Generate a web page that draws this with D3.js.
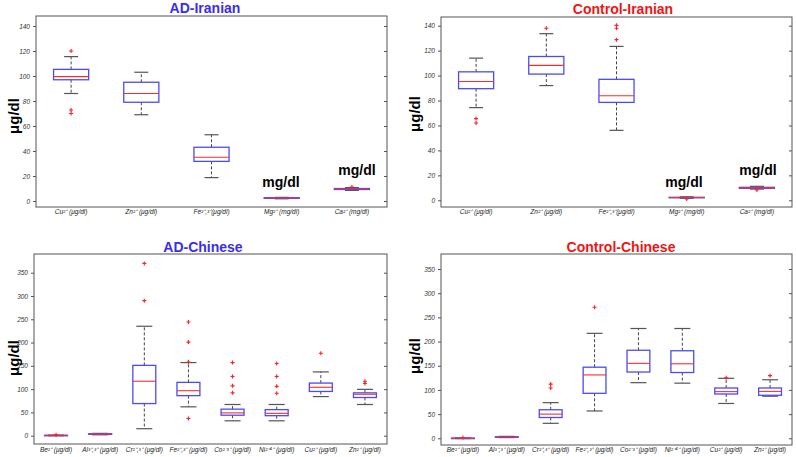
<!DOCTYPE html>
<html>
<head>
<meta charset="utf-8">
<script src="https://cdn.jsdelivr.net/npm/d3@7"></script>
<style>
  body { margin: 0; background: #fff; }
  text { font-family: "Liberation Sans", Arial, sans-serif; }
</style>
</head>
<body>
<svg width="796" height="457"></svg>
<script>
// categories
var iranCats = ["Cu²⁺ (μg/dl)", "Zn²⁺ (μg/dl)", "Fe²⁺,³⁺(μg/dl)", "Mg²⁺ (mg/dl)", "Ca²⁺ (mg/dl)"];
var chinaCats = ["Be²⁺ (μg/dl)", "Al³⁺,³⁺ (μg/dl)", "Cr²⁺,³⁺ (μg/dl)", "Fe²⁺,³⁺ (μg/dl)",
                 "Co²⁻³⁺ (μg/dl)", "Ni²⁻⁴⁺ (μg/dl)", "Cu²⁺ (μg/dl)", "Zn²⁺ (μg/dl)"];

// box stats: [low whisker, q1, median, q3, high whisker]
var adIranStats = [[86, 97, 99.5, 105.3, 115.5], [69, 79, 86, 95, 103], [18.7, 31.7, 35, 43, 53],
                   [1.8, 2.1, 2.4, 2.6, 2.9], [8.5, 9.2, 9.6, 10.0, 10.7]];
var adIranOut = [[120, 72.8, 70], [], [], [], [11.2]];

var ctIranStats = [[74.3, 89.5, 95.3, 103, 114], [92, 101.2, 108.2, 115.3, 133.6], [56.1, 78.5, 83.8, 97, 123.4],
                   [1.6, 2.0, 2.2, 2.4, 2.8], [9.0, 9.6, 10.0, 10.4, 11.2]];
var ctIranOut = [[65.5, 62], [137.9], [140.3, 137.9, 128.8], [1.0], [8.3]];

var adChinaStats = [[0, 0.4, 0.6, 0.9, 1.3], [2.0, 2.8, 3.4, 4.2, 5.0], [15, 69, 117, 151, 235],
                    [62, 86, 96.6, 114.5, 157], [32, 44, 49, 57, 67], [32, 43, 48, 56, 67],
                    [84, 95, 104, 113, 137], [67, 82, 89, 92, 99.5]];
var adChinaOut = [[2.0], [], [370, 290], [244, 201, 158, 37], [157, 127, 107, 92],
                  [155, 127, 106, 91], [177], [117, 112]];

var ctChinaStats = [[-0.5, -0.1, 0.1, 0.4, 0.7], [1.5, 2.2, 2.7, 3.3, 4.0], [31, 43, 50, 59, 73.7],
                    [56.5, 93, 131, 147, 217], [115, 137, 155, 182, 227], [114, 136, 154, 181, 227],
                    [72, 91.6, 96.5, 104, 124], [87, 89, 97, 104, 121]];
var ctChinaOut = [[1.5], [], [112, 104], [271], [], [], [125], [129.5]];

var iranTicks = [0, 20, 40, 60, 80, 100, 120, 140];
var chinaTicks = [0, 50, 100, 150, 200, 250, 300, 350];

var blue = "#3a2cf2", red = "#f01414";

var panels = [
  {title: "AD-Iranian", color: blue, cats: iranCats, stats: adIranStats, out: adIranOut, ticks: iranTicks,
   x0: 36, x1: 387, y0: 16, y1: 207, dom: [0, 140], rng: [201, 26], tx: 205, ty: 13, lx: 19, ly: 116,
   boxW: 0.5, capW: 14, labY: 214},
  {title: "Control-Iranian", color: red, cats: iranCats, stats: ctIranStats, out: ctIranOut, ticks: iranTicks,
   x0: 441, x1: 792, y0: 17, y1: 207, dom: [0, 140], rng: [200.3, 25.7], tx: 623, ty: 14, lx: 420, ly: 114,
   boxW: 0.5, capW: 14, labY: 214},
  {title: "AD-Chinese", color: blue, cats: chinaCats, stats: adChinaStats, out: adChinaOut, ticks: chinaTicks,
   x0: 34, x1: 387, y0: 254, y1: 444, dom: [0, 350], rng: [435.7, 272.7], tx: 203, ty: 252, lx: 19, ly: 358,
   boxW: 0.52, capW: 16, labY: 452},
  {title: "Control-Chinese", color: red, cats: chinaCats, stats: ctChinaStats, out: ctChinaOut, ticks: chinaTicks,
   x0: 441, x1: 792, y0: 254, y1: 445, dom: [0, 350], rng: [438.3, 269], tx: 621, ty: 252, lx: 420, ly: 356,
   boxW: 0.52, capW: 16, labY: 452}
];

// unit notes on the top panels
var notes = [
  {p: 0, x: 281, y: 187}, {p: 0, x: 357, y: 175},
  {p: 1, x: 684, y: 187}, {p: 1, x: 758, y: 175}
];

var svg = d3.select("svg");

panels.forEach(function(p) {
  var g = svg.append("g");
  var x = d3.scaleBand().domain(p.cats).range([p.x0, p.x1]);
  var y = d3.scaleLinear().domain(p.dom).range(p.rng);
  var bw = x.bandwidth() * p.boxW;

  // left ticks
  g.append("g")
    .attr("transform", "translate(" + p.x0 + ",0)")
    .call(d3.axisLeft(y).tickValues(p.ticks).tickSize(3).tickPadding(3))
    .call(function(a) {
      a.select(".domain").remove();
      a.selectAll("line").attr("stroke", "#555");
      a.selectAll("text").attr("font-size", 6.5).attr("font-style", "italic").attr("fill", "#333")
        .attr("font-family", "Liberation Sans, Arial, sans-serif");
    });
  // right ticks
  g.append("g")
    .attr("transform", "translate(" + p.x1 + ",0)")
    .call(d3.axisLeft(y).tickValues(p.ticks).tickSize(3).tickFormat(""))
    .call(function(a) {
      a.select(".domain").remove();
      a.selectAll("line").attr("stroke", "#555");
    });

  // frame
  g.append("rect")
    .attr("x", p.x0).attr("y", p.y0)
    .attr("width", p.x1 - p.x0).attr("height", p.y1 - p.y0)
    .attr("fill", "none").attr("stroke", "#555").attr("stroke-width", 1);

  // x labels
  g.selectAll(".xl").data(p.cats).enter().append("text")
    .attr("x", function(d) { return x(d) + x.bandwidth() / 2; })
    .attr("y", p.labY)
    .attr("text-anchor", "middle")
    .attr("font-size", 6.5).attr("font-style", "italic").attr("fill", "#222")
    .text(function(d) { return d; });

  var boxes = g.selectAll(".box").data(p.stats).enter().append("g")
    .attr("transform", function(d, i) { return "translate(" + (x(p.cats[i]) + x.bandwidth() / 2) + ",0)"; });

  // whiskers
  boxes.append("line").attr("x1", 0).attr("x2", 0)
    .attr("y1", function(d) { return y(d[3]); }).attr("y2", function(d) { return y(d[4]); })
    .attr("stroke", "#444").attr("stroke-dasharray", "3,2");
  boxes.append("line").attr("x1", 0).attr("x2", 0)
    .attr("y1", function(d) { return y(d[1]); }).attr("y2", function(d) { return y(d[0]); })
    .attr("stroke", "#444").attr("stroke-dasharray", "3,2");
  // caps
  [0, 4].forEach(function(k) {
    boxes.append("line").attr("x1", -p.capW / 2).attr("x2", p.capW / 2)
      .attr("y1", function(d) { return y(d[k]); }).attr("y2", function(d) { return y(d[k]); })
      .attr("stroke", "#555").attr("stroke-width", 1.2);
  });
  // box
  boxes.append("rect")
    .attr("x", -bw / 2).attr("width", bw)
    .attr("y", function(d) { return y(d[3]); })
    .attr("height", function(d) { return Math.max(0.5, y(d[1]) - y(d[3])); })
    .attr("fill", "none").attr("stroke", "#4b4bf5").attr("stroke-width", 1.3);
  // median
  boxes.append("line").attr("x1", -bw / 2).attr("x2", bw / 2)
    .attr("y1", function(d) { return y(d[2]); }).attr("y2", function(d) { return y(d[2]); })
    .attr("stroke", "#f03030").attr("stroke-width", 1.1);

  // outliers
  boxes.each(function(d, i) {
    var pts = p.out[i];
    d3.select(this).selectAll(".o").data(pts).enter().append("path")
      .attr("d", function(v) {
        var yy = y(v);
        return "M-2," + yy + "H2M0," + (yy - 2) + "V" + (yy + 2);
      })
      .attr("stroke", "#ff2020").attr("stroke-width", 1.1).attr("fill", "none");
  });

  // title
  g.append("text").attr("x", p.tx).attr("y", p.ty)
    .attr("text-anchor", "middle").attr("font-size", 14).attr("font-weight", "bold")
    .attr("fill", p.color).text(p.title);

  // y label
  g.append("text")
    .attr("transform", "translate(" + p.lx + "," + p.ly + ") rotate(-90)")
    .attr("text-anchor", "middle").attr("font-size", 15).attr("font-weight", "bold")
    .attr("fill", "#000").text("μg/dl");
});

svg.selectAll(".note").data(notes).enter().append("text")
  .attr("x", function(d) { return d.x; }).attr("y", function(d) { return d.y; })
  .attr("text-anchor", "middle").attr("font-size", 14).attr("font-weight", "bold")
  .text("mg/dl");
</script>
</body>
</html>
